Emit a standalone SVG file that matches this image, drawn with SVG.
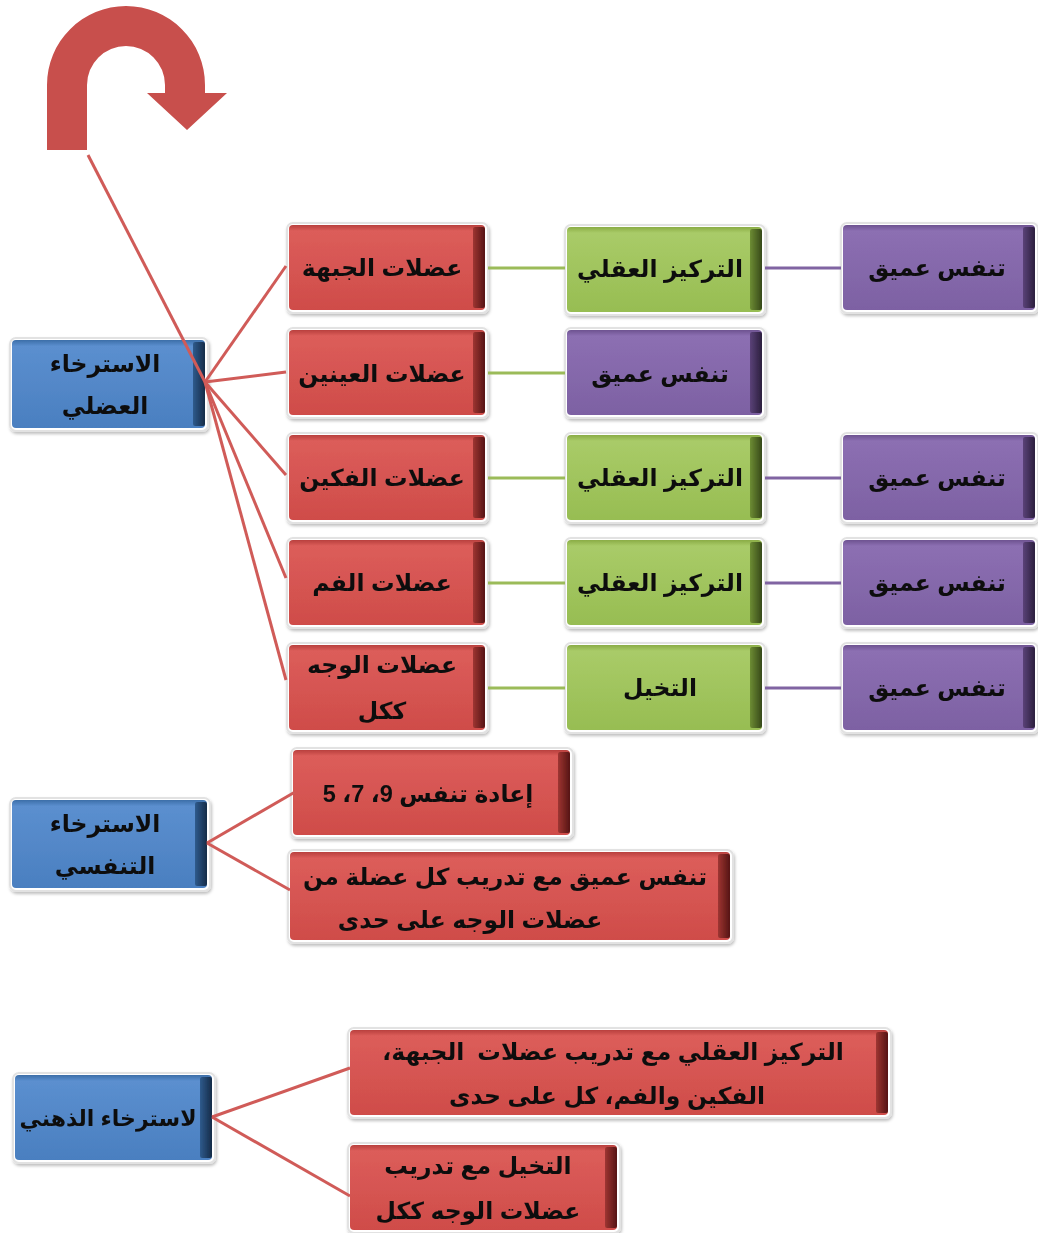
<svg xmlns="http://www.w3.org/2000/svg" width="1038" height="1233" viewBox="0 0 1038 1233">
  <defs>
    <linearGradient id="gRed" x1="0" y1="0" x2="0" y2="1">
      <stop offset="0" stop-color="#b8403d"/>
      <stop offset="0.07" stop-color="#dc5d5a"/>
      <stop offset="1" stop-color="#cf4c49"/>
    </linearGradient>
    <linearGradient id="gBlue" x1="0" y1="0" x2="0" y2="1">
      <stop offset="0" stop-color="#3c6ea8"/>
      <stop offset="0.07" stop-color="#5b8fcf"/>
      <stop offset="1" stop-color="#4a7fc0"/>
    </linearGradient>
    <linearGradient id="gGreen" x1="0" y1="0" x2="0" y2="1">
      <stop offset="0" stop-color="#8aac45"/>
      <stop offset="0.07" stop-color="#a9cb68"/>
      <stop offset="1" stop-color="#97bd52"/>
    </linearGradient>
    <linearGradient id="gPurple" x1="0" y1="0" x2="0" y2="1">
      <stop offset="0" stop-color="#6d5290"/>
      <stop offset="0.07" stop-color="#8c6fb2"/>
      <stop offset="1" stop-color="#7d61a3"/>
    </linearGradient>
    <linearGradient id="sRed" x1="0" y1="0" x2="1" y2="0">
      <stop offset="0" stop-color="#9e3532"/>
      <stop offset="1" stop-color="#551514"/>
    </linearGradient>
    <linearGradient id="sBlue" x1="0" y1="0" x2="1" y2="0">
      <stop offset="0" stop-color="#2f5a8c"/>
      <stop offset="1" stop-color="#152c48"/>
    </linearGradient>
    <linearGradient id="sGreen" x1="0" y1="0" x2="1" y2="0">
      <stop offset="0" stop-color="#6d8c33"/>
      <stop offset="1" stop-color="#37491a"/>
    </linearGradient>
    <linearGradient id="sPurple" x1="0" y1="0" x2="1" y2="0">
      <stop offset="0" stop-color="#5a4278"/>
      <stop offset="1" stop-color="#2c1f3d"/>
    </linearGradient>
    <filter id="soft" x="-5%" y="-10%" width="110%" height="125%">
      <feGaussianBlur in="SourceAlpha" stdDeviation="1.5"/>
      <feOffset dx="1" dy="2" result="b"/>
      <feFlood flood-color="#000" flood-opacity="0.25"/>
      <feComposite in2="b" operator="in"/>
      <feMerge><feMergeNode/><feMergeNode in="SourceGraphic"/></feMerge>
    </filter>
  </defs>
  <style>
    .halo { fill: #ffffff; stroke: #e2e2e2; stroke-width: 2; }
    .red { fill: url(#gRed); }
    .blue { fill: url(#gBlue); }
    .green { fill: url(#gGreen); }
    .purple { fill: url(#gPurple); }
    .sred { fill: url(#sRed); }
    .sblue { fill: url(#sBlue); }
    .sgreen { fill: url(#sGreen); }
    .spurple { fill: url(#sPurple); }
    .box { filter: url(#soft); }
    text { font-family: "Liberation Sans", "DejaVu Sans", sans-serif; font-weight: bold; font-size: 23.5px; fill: #111; text-anchor: middle; direction: rtl; dominant-baseline: central; white-space: pre; }
    text.fit { font-size: 22px; }
    .lr { stroke: #d05b58; stroke-width: 3; fill: none; }
    .lg { stroke: #9bbb59; stroke-width: 3; fill: none; }
    .lp { stroke: #8064a2; stroke-width: 3; fill: none; }
  </style>

  <!-- U-turn arrow -->
  <path id="uturn" d="M47,150 L47,85 A79,79 0 0 1 205,85 L205,93 L227,93 L187,130 L147,93 L165,93 L165,85 A39,39 0 0 0 87,85 L87,150 Z" fill="#c84f4c"/>

  <!-- muscular relaxation -->
  <g id="n-muscle" class="box">
    <rect class="halo" x="10" y="338" width="198" height="93" rx="6"/>
    <rect class="blue" x="12" y="340" width="193" height="88" rx="4"/>
    <rect class="sblue" x="193" y="342" width="12" height="84" rx="2"/>
    <text x="105" y="364">الاسترخاء</text>
    <text x="105" y="406">العضلي</text>
  </g>

  <g id="n-forehead" class="box">
    <rect class="halo" x="287" y="223" width="201" height="90" rx="6"/>
    <rect class="red" x="289" y="225" width="196" height="85" rx="4"/>
    <rect class="sred" x="473" y="227" width="12" height="81" rx="2"/>
    <text x="382" y="268">عضلات الجبهة</text>
  </g>
  <g id="n-eyes" class="box">
    <rect class="halo" x="287" y="328" width="201" height="90" rx="6"/>
    <rect class="red" x="289" y="330" width="196" height="85" rx="4"/>
    <rect class="sred" x="473" y="332" width="12" height="81" rx="2"/>
    <text x="382" y="374">عضلات العينين</text>
  </g>
  <g id="n-jaws" class="box">
    <rect class="halo" x="287" y="433" width="201" height="90" rx="6"/>
    <rect class="red" x="289" y="435" width="196" height="85" rx="4"/>
    <rect class="sred" x="473" y="437" width="12" height="81" rx="2"/>
    <text x="382" y="478">عضلات الفكين</text>
  </g>
  <g id="n-mouth" class="box">
    <rect class="halo" x="287" y="538" width="201" height="90" rx="6"/>
    <rect class="red" x="289" y="540" width="196" height="85" rx="4"/>
    <rect class="sred" x="473" y="542" width="12" height="81" rx="2"/>
    <text x="382" y="583">عضلات الفم</text>
  </g>
  <g id="n-face" class="box">
    <rect class="halo" x="287" y="643" width="201" height="90" rx="6"/>
    <rect class="red" x="289" y="645" width="196" height="85" rx="4"/>
    <rect class="sred" x="473" y="647" width="12" height="81" rx="2"/>
    <text x="382" y="665">عضلات الوجه</text>
    <text x="382" y="711">ككل</text>
  </g>

  <g id="n-focus1" class="box">
    <rect class="halo" x="565" y="225" width="200" height="90" rx="6"/>
    <rect class="green" x="567" y="227" width="195" height="85" rx="4"/>
    <rect class="sgreen" x="750" y="229" width="12" height="81" rx="2"/>
    <text x="660" y="269">التركيز العقلي</text>
  </g>
  <g id="n-breath2" class="box">
    <rect class="halo" x="565" y="328" width="200" height="90" rx="6"/>
    <rect class="purple" x="567" y="330" width="195" height="85" rx="4"/>
    <rect class="spurple" x="750" y="332" width="12" height="81" rx="2"/>
    <text x="660" y="374">تنفس عميق</text>
  </g>
  <g id="n-focus3" class="box">
    <rect class="halo" x="565" y="433" width="200" height="90" rx="6"/>
    <rect class="green" x="567" y="435" width="195" height="85" rx="4"/>
    <rect class="sgreen" x="750" y="437" width="12" height="81" rx="2"/>
    <text x="660" y="478">التركيز العقلي</text>
  </g>
  <g id="n-focus4" class="box">
    <rect class="halo" x="565" y="538" width="200" height="90" rx="6"/>
    <rect class="green" x="567" y="540" width="195" height="85" rx="4"/>
    <rect class="sgreen" x="750" y="542" width="12" height="81" rx="2"/>
    <text x="660" y="583">التركيز العقلي</text>
  </g>
  <g id="n-imagine5" class="box">
    <rect class="halo" x="565" y="643" width="200" height="90" rx="6"/>
    <rect class="green" x="567" y="645" width="195" height="85" rx="4"/>
    <rect class="sgreen" x="750" y="647" width="12" height="81" rx="2"/>
    <text x="660" y="688">التخيل</text>
  </g>

  <g id="n-breath1" class="box">
    <rect class="halo" x="841" y="223" width="197" height="90" rx="6"/>
    <rect class="purple" x="843" y="225" width="192" height="85" rx="4"/>
    <rect class="spurple" x="1023" y="227" width="12" height="81" rx="2"/>
    <text x="937" y="268">تنفس عميق</text>
  </g>
  <g id="n-breath3" class="box">
    <rect class="halo" x="841" y="433" width="197" height="90" rx="6"/>
    <rect class="purple" x="843" y="435" width="192" height="85" rx="4"/>
    <rect class="spurple" x="1023" y="437" width="12" height="81" rx="2"/>
    <text x="937" y="478">تنفس عميق</text>
  </g>
  <g id="n-breath4" class="box">
    <rect class="halo" x="841" y="538" width="197" height="90" rx="6"/>
    <rect class="purple" x="843" y="540" width="192" height="85" rx="4"/>
    <rect class="spurple" x="1023" y="542" width="12" height="81" rx="2"/>
    <text x="937" y="583">تنفس عميق</text>
  </g>
  <g id="n-breath5" class="box">
    <rect class="halo" x="841" y="643" width="197" height="90" rx="6"/>
    <rect class="purple" x="843" y="645" width="192" height="85" rx="4"/>
    <rect class="spurple" x="1023" y="647" width="12" height="81" rx="2"/>
    <text x="937" y="688">تنفس عميق</text>
  </g>

  <!-- breathing relaxation -->
  <g id="n-breathing" class="box">
    <rect class="halo" x="10" y="798" width="200" height="93" rx="6"/>
    <rect class="blue" x="12" y="800" width="195" height="88" rx="4"/>
    <rect class="sblue" x="195" y="802" width="12" height="84" rx="2"/>
    <text x="105" y="824">الاسترخاء</text>
    <text x="105" y="866">التنفسي</text>
  </g>
  <g id="n-repeat" class="box">
    <rect class="halo" x="291" y="748" width="282" height="90" rx="6"/>
    <rect class="red" x="293" y="750" width="277" height="85" rx="4"/>
    <rect class="sred" x="558" y="752" width="12" height="81" rx="2"/>
    <text x="428" y="794">إعادة تنفس 9، 7، 5</text>
  </g>
  <g id="n-deep" class="box">
    <rect class="halo" x="288" y="850" width="445" height="93" rx="6"/>
    <rect class="red" x="290" y="852" width="440" height="88" rx="4"/>
    <rect class="sred" x="718" y="854" width="12" height="84" rx="2"/>
    <text x="505" y="877">تنفس عميق مع تدريب كل عضلة من</text>
    <text x="470" y="920">عضلات الوجه على حدى</text>
  </g>

  <!-- mental relaxation -->
  <g id="n-mental" class="box">
    <rect class="halo" x="13" y="1073" width="202" height="90" rx="6"/>
    <rect class="blue" x="15" y="1075" width="197" height="85" rx="4"/>
    <rect class="sblue" x="200" y="1077" width="12" height="81" rx="2"/>
    <text class="fit" x="108" y="1118">لاسترخاء الذهني</text>
  </g>
  <g id="n-focus-train" class="box">
    <rect class="halo" x="348" y="1028" width="543" height="90" rx="6"/>
    <rect class="red" x="350" y="1030" width="538" height="85" rx="4"/>
    <rect class="sred" x="876" y="1032" width="12" height="81" rx="2"/>
    <text x="613" y="1052">التركيز العقلي مع تدريب عضلات  الجبهة،</text>
    <text x="607" y="1096">الفكين والفم، كل على حدى</text>
  </g>
  <g id="n-imagine-train" class="box">
    <rect class="halo" x="348" y="1143" width="272" height="90" rx="6"/>
    <rect class="red" x="350" y="1145" width="267" height="85" rx="4"/>
    <rect class="sred" x="605" y="1147" width="12" height="81" rx="2"/>
    <text x="478" y="1166">التخيل مع تدريب</text>
    <text x="478" y="1211">عضلات الوجه ككل</text>
  </g>

  <!-- connectors, drawn over the node edges -->
  <g id="connectors">
    <line class="lr" x1="88" y1="155" x2="205" y2="382"/>
    <line class="lr" x1="205" y1="382" x2="286" y2="266"/>
    <line class="lr" x1="205" y1="382" x2="286" y2="372"/>
    <line class="lr" x1="205" y1="382" x2="286" y2="475"/>
    <line class="lr" x1="205" y1="382" x2="286" y2="578"/>
    <line class="lr" x1="205" y1="382" x2="286" y2="680"/>
    <line class="lr" x1="207" y1="843" x2="295" y2="792"/>
    <line class="lr" x1="207" y1="843" x2="290" y2="890"/>
    <line class="lr" x1="212" y1="1117" x2="350" y2="1068"/>
    <line class="lr" x1="212" y1="1117" x2="350" y2="1196"/>
    <line class="lg" x1="488" y1="268" x2="565" y2="268"/>
    <line class="lg" x1="488" y1="373" x2="565" y2="373"/>
    <line class="lg" x1="488" y1="478" x2="565" y2="478"/>
    <line class="lg" x1="488" y1="583" x2="565" y2="583"/>
    <line class="lg" x1="488" y1="688" x2="565" y2="688"/>
    <line class="lp" x1="765" y1="268" x2="841" y2="268"/>
    <line class="lp" x1="765" y1="478" x2="841" y2="478"/>
    <line class="lp" x1="765" y1="583" x2="841" y2="583"/>
    <line class="lp" x1="765" y1="688" x2="841" y2="688"/>
  </g>
</svg>
